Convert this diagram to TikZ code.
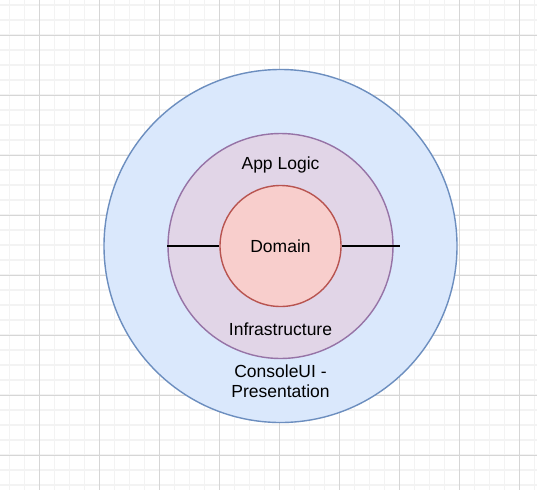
\documentclass[tikz,border=0pt]{standalone}
\usepackage{fontspec}
\setmainfont{Liberation Sans}
\definecolor{gridminor}{HTML}{F3F3F3}
\definecolor{gridmajor}{HTML}{D6D6D6}
\definecolor{bluefill}{HTML}{DAE8FC}
\definecolor{bluestroke}{HTML}{6C8EBF}
\definecolor{purplefill}{HTML}{E1D5E7}
\definecolor{purplestroke}{HTML}{9673A6}
\definecolor{redfill}{HTML}{F8CECC}
\definecolor{redstroke}{HTML}{B85450}
\tikzset{
  layer/.style={circle, line width=1.4pt, inner sep=0pt},
  lbl/.style={font=\fontsize{17.5}{20}\selectfont, text=black, align=center, inner sep=0pt},
  link/.style={line width=1.4pt, draw=black}
}
\begin{document}
\begin{tikzpicture}[x=1pt,y=-1pt]
\useasboundingbox (0,0) rectangle (537,490);
\fill[white] (0,0) rectangle (537,490);
% minor grid
\foreach \i in {0,...,35} {
  \draw[gridminor, line width=1.3pt] ({9.5+15*\i},0) -- ({9.5+15*\i},490);
}
\foreach \i in {0,...,32} {
  \draw[gridminor, line width=1.3pt] (0,{5+15*\i}) -- (537,{5+15*\i});
}
% major grid
\foreach \i in {0,...,8} {
  \draw[gridmajor, line width=1pt] ({39.5+60*\i},0) -- ({39.5+60*\i},490);
}
\foreach \i in {0,...,7} {
  \draw[gridmajor, line width=1pt] (0,{35+60*\i}) -- (537,{35+60*\i});
}
% circles
\node[layer, draw=bluestroke, fill=bluefill, minimum size=353pt] (outer) at (280.5,246) {};
\node[layer, draw=purplestroke, fill=purplefill, minimum size=225pt] (middle) at (280.5,246) {};
\node[layer, draw=redstroke, fill=redfill, minimum size=121pt] (inner) at (280.5,246) {};
% connectors
\coordinate (rightend) at (400,246);
\draw[link] (middle.west) -- (inner.west);
\draw[link] (inner.east) -- (rightend);
% labels
\node[lbl] (domain) at (inner.center) {Domain};
\node[lbl] (applogic) at (280.5,164.5) {App Logic};
\node[lbl] (infra) at (280.5,329) {Infrastructure};
\node[lbl] (console) at (280.5,381.5) {ConsoleUI -\\Presentation};
\end{tikzpicture}
\end{document}
